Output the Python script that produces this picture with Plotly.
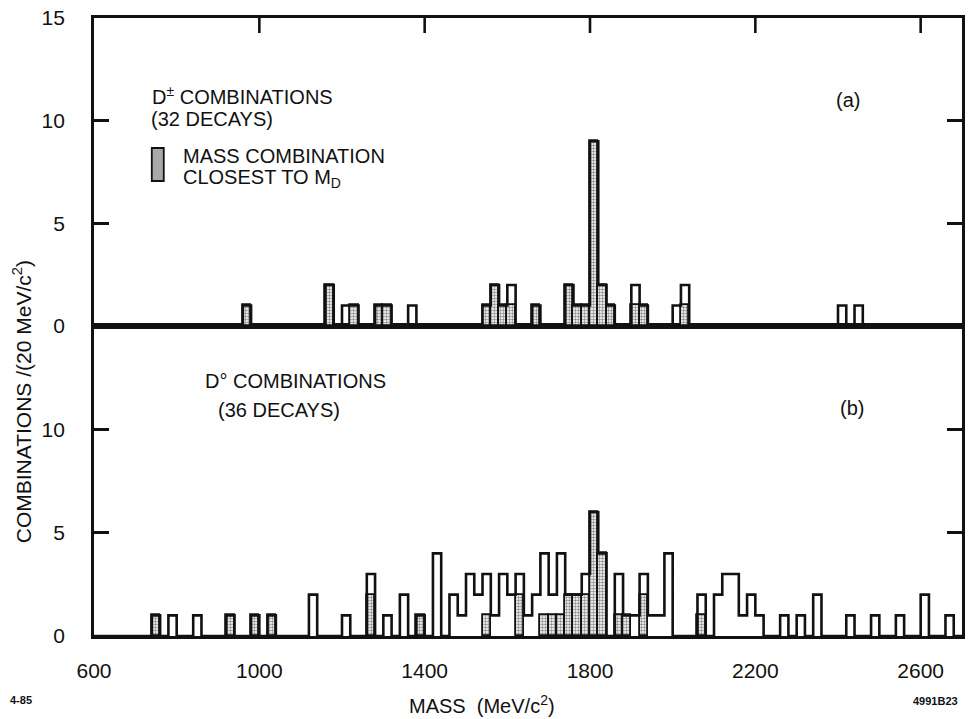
import plotly.graph_objects as go

# ---- D+- combinations, 20 MeV/c^2 bins (lower bin edge, MeV/c^2) ----
dpm_bins = [960, 1160, 1200, 1220, 1280, 1300, 1360, 1540, 1560, 1580, 1600, 1660,
            1740, 1760, 1780, 1800, 1820, 1840, 1900, 1920, 2000, 2020, 2400, 2440]
dpm_total = [1, 2, 1, 1, 1, 1, 1, 1, 2, 1, 2, 1,
             2, 1, 1, 9, 2, 1, 2, 1, 1, 2, 1, 1]
dpm_closest = [1, 2, 0, 1, 1, 1, 0, 1, 2, 1, 1, 1,
               2, 1, 1, 9, 2, 1, 1, 1, 0, 1, 0, 0]

# ---- D0 combinations ----
d0_bins = [740, 780, 840, 920, 980, 1020,
           1120, 1200, 1260, 1300, 1340, 1380,
           1420, 1460, 1480, 1500, 1520, 1540,
           1560, 1580, 1600, 1620, 1640, 1660,
           1680, 1700, 1720, 1740, 1760, 1780,
           1800, 1820, 1860, 1880, 1900, 1920,
           1940, 1960, 1980, 2060, 2100, 2120,
           2140, 2160, 2180, 2200, 2260, 2300,
           2340, 2420, 2480, 2540, 2600, 2660]
d0_total = [1, 1, 1, 1, 1, 1,
            2, 1, 3, 1, 2, 1,
            4, 2, 1, 3, 2, 3,
            1, 3, 2, 3, 1, 2,
            4, 2, 4, 2, 2, 3,
            6, 4, 3, 1, 1, 3,
            1, 1, 4, 2, 2, 3,
            3, 1, 2, 1, 1, 1,
            2, 1, 1, 1, 2, 1]
d0_closest = [1, 0, 0, 1, 1, 1,
              0, 0, 2, 0, 0, 1,
              0, 0, 0, 0, 0, 1,
              0, 0, 0, 2, 0, 0,
              1, 1, 1, 2, 2, 2,
              6, 4, 1, 1, 0, 2,
              0, 0, 0, 1, 0, 0,
              0, 0, 0, 0, 0, 0,
              0, 0, 0, 0, 0, 0]

BIN = 20
X_MIN, X_MAX = 600, 2700
Y_MAX = 15
x_ticks = [600, 1000, 1400, 1800, 2200, 2600]

FONT = "Liberation Sans"
INK = "#111111"

# figure geometry (pixels)
W, H = 968, 719
ML, MR, MT, MB = 94, 3, 18, 83
PW, PH = W - ML - MR, H - MT - MB
split = (H - MB - 326) / PH   # boundary between the two panels
TICK_PX = 15


def px(x, y):
    """pixel position -> paper coordinates"""
    return (x - ML) / PW, (H - MB - y) / PH


def step_outline(bins, counts):
    """Histogram outline on the full 20 MeV grid."""
    lookup = dict(zip(bins, counts))
    edges = list(range(X_MIN, X_MAX + BIN, BIN))
    ys = [lookup.get(e, 0) for e in edges[:-1]]
    return edges, ys + [0]


fig = go.Figure()

stipple = dict(shape=".", fgcolor="#1a1a1a", bgcolor="white", size=3, solidity=0.5)

for bins, total, closest, xa, ya in [
    (dpm_bins, dpm_total, dpm_closest, "x2", "y2"),
    (d0_bins, d0_total, d0_closest, "x", "y"),
]:
    sb = [b + BIN / 2 for b, c in zip(bins, closest) if c > 0]
    sc = [c for c in closest if c > 0]
    fig.add_trace(go.Bar(
        x=sb, y=sc, width=BIN, xaxis=xa, yaxis=ya,
        marker=dict(color="white", pattern=stipple,
                    line=dict(color=INK, width=1.8)),
        showlegend=False, hoverinfo="skip",
    ))
    ex, ey = step_outline(bins, total)
    fig.add_trace(go.Scatter(
        x=ex, y=ey, xaxis=xa, yaxis=ya, mode="lines",
        line=dict(color=INK, width=2.6, shape="hv"),
        showlegend=False, hoverinfo="skip",
    ))

# mass ticks hanging from the upper frame of panel (a)
tick_drop = Y_MAX * TICK_PX / (PH * (1 - split))
tx, ty = [], []
for v in x_ticks[1:]:
    tx += [v, v, None]
    ty += [Y_MAX, Y_MAX - tick_drop, None]
fig.add_trace(go.Scatter(
    x=tx, y=ty, xaxis="x2", yaxis="y2", mode="lines",
    line=dict(color=INK, width=2.6), showlegend=False, hoverinfo="skip",
))

axis_common = dict(showline=True, linecolor=INK, linewidth=2.8, showgrid=False,
                   zeroline=False, tickcolor=INK)

fig.update_layout(
    width=W, height=H,
    margin=dict(l=ML, r=MR, t=MT, b=MB),
    paper_bgcolor="white", plot_bgcolor="white",
    font=dict(family=FONT, color=INK),
    bargap=0,
    xaxis=dict(domain=[0, 1], anchor="y", range=[X_MIN, X_MAX],
               tickvals=x_ticks, ticktext=[str(v) for v in x_ticks],
               ticks="", mirror=True, tickfont=dict(size=21),
               ticklabelstandoff=14, **axis_common),
    xaxis2=dict(domain=[0, 1], anchor="y2", range=[X_MIN, X_MAX],
                ticks="", showticklabels=False, mirror=True, **axis_common),
    yaxis=dict(domain=[0, split], anchor="x", range=[0, Y_MAX],
               tickvals=[0, 5, 10], ticks="inside", ticklen=TICK_PX, tickwidth=2.6,
               mirror="allticks", tickfont=dict(size=21), ticklabelstandoff=22,
               **axis_common),
    yaxis2=dict(domain=[split, 1], anchor="x2", range=[0, Y_MAX],
                tickvals=[0, 5, 10, 15], ticks="inside", ticklen=TICK_PX, tickwidth=2.6,
                mirror="allticks", tickfont=dict(size=21), ticklabelstandoff=22,
                **axis_common),
)


def label(text, x, y, size=20, xanchor="left", angle=0, bold=False):
    pxx, pyy = px(x, y)
    fig.add_annotation(
        text=f"<b>{text}</b>" if bold else text,
        x=pxx, y=pyy, xref="paper", yref="paper",
        xanchor=xanchor, yanchor="middle", showarrow=False,
        textangle=angle, font=dict(size=size, family=FONT, color=INK),
    )


# panel (a)
label("D<sup>±</sup> COMBINATIONS", 150, 95)
label("(32 DECAYS)", 149, 119)
label("MASS COMBINATION", 181, 156)
label("CLOSEST TO M<sub>D</sub>", 181, 179)
label("(a)", 851, 100, xanchor="center")

# key swatch for the stippled entries
x0, y0 = px(152, 148)
x1, y1 = px(164, 181)
fig.add_shape(type="rect", xref="paper", yref="paper", x0=x0, x1=x1, y0=y1, y1=y0,
              fillcolor="#a8a8a8", line=dict(color=INK, width=1.8))

# panel (b)
label("D° COMBINATIONS", 203, 381)
label("(36 DECAYS)", 216, 410)
label("(b)", 855, 408, xanchor="center")

# axis titles and plate marks
label("COMBINATIONS /(20 MeV/c<sup>2</sup>)", 22, 402, size=21, xanchor="center", angle=-90)
label("MASS  (MeV/c<sup>2</sup>)", 483, 704, size=20, xanchor="center")
label("4-85", 21, 700, size=11, xanchor="center", bold=True)
label("4991B23", 938, 701, size=11, xanchor="center", bold=True)

fig.write_html("out.html")
